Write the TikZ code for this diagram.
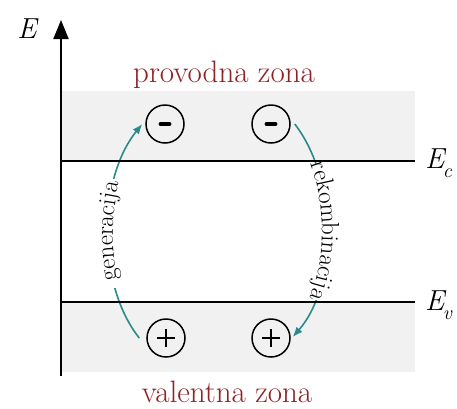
\documentclass[tikz,border=0pt]{standalone}
\usetikzlibrary{arrows.meta,decorations.text}
\definecolor{bandgray}{HTML}{F1F1F1}
\definecolor{zonered}{HTML}{8E2226}
\definecolor{arrteal}{HTML}{2A8A8C}
\newcommand{\mysubidx}[1]{\kern-1.5pt\raisebox{-0.3em}{\fontsize{20}{20}\selectfont\itshape #1}}
\tikzset{
  chargebase/.style={circle, draw, line width=1.5pt, minimum size=38pt, inner sep=0pt},
  electron/.style={chargebase, path picture={\draw[line width=3.8pt, line cap=round] (path picture bounding box.center) +(-4.5pt,0) -- +(4.5pt,0);}},
  hole/.style={chargebase, path picture={\draw[line width=1.1pt] (path picture bounding box.center) +(-9pt,0) -- +(9pt,0) (path picture bounding box.center) +(0,-9pt) -- +(0,9pt);}},
  zonelabel/.style={text=zonered, font=\fontsize{31}{33}\selectfont, inner sep=0pt},
  levellabel/.style={font=\fontsize{29}{31}\selectfont\itshape, inner sep=0pt},
  transarrow/.style={arrteal, line width=1.6pt, -{Latex[length=10pt,width=8pt]}},
  bandline/.style={line width=1.8pt, black},
}
\begin{document}
\begin{tikzpicture}[x=1pt,y=-1pt]
\useasboundingbox (0,0) rectangle (457,408);
% bands
\fill[bandgray] (60,91) rectangle (415,161);
\fill[bandgray] (60,302) rectangle (415,372);
% charges
\node[electron] (m1) at (165,124) {};
\node[electron] (m2) at (271,124) {};
\node[hole] (p1) at (166,338) {};
\node[hole] (p2) at (271,338) {};
% arrow end points
\coordinate (g0) at ([xshift=-7pt]p1.west);
\coordinate (g1) at ([xshift=-3pt]m1.west);
\coordinate (r0) at ([xshift=4pt]m2.east);
\coordinate (r1) at ([xshift=2pt,yshift=1pt]p2.east);
% transitions
\draw[transarrow] (g0) .. controls (97,285) and (97,180) .. (g1);
\draw[transarrow] (r0) .. controls (338,180) and (338,285) .. (r1);
% white masks under labels
\fill[white] (95,179) rectangle (124,288);
\fill[white] (309,164) rectangle (346,300);
% level lines
\draw[bandline] (60,161) -- (415,161);
\draw[bandline] (60,302) -- (415,302);
% labels along transitions
\path[decorate, decoration={text along path, text align=center, raise=-5pt,
  text={|\fontsize{25}{27}\selectfont|generacija}}]
  (g0) .. controls (97,285) and (97,180) .. (g1);
\path[decorate, decoration={text along path, text align=center, raise=-5pt,
  text={|\fontsize{25}{27}\selectfont|rekombinacija}}]
  (r0) .. controls (338,180) and (338,285) .. (r1);
% axis
\coordinate (ax0) at (61,376);
\coordinate (ax1) at (61,20);
\draw[line width=2pt, -{Triangle[length=19pt,width=15pt]}] (ax0) -- (ax1);
\node[levellabel] (E) at (27,29) {E};
\node[levellabel, anchor=west] (Ec) at (425,163) {E\mysubidx{c}};
\node[levellabel, anchor=west] (Ev) at (425,305) {E\mysubidx{v}};
% zone labels
\node[zonelabel] (cz) at (224,75) {provodna zona};
\node[zonelabel] (vz) at (227,392) {valentna zona};
\end{tikzpicture}
\end{document}
